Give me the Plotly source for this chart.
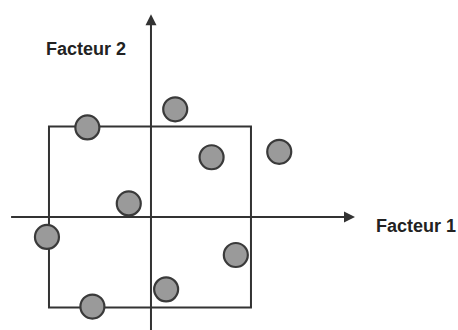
import plotly.graph_objects as go

# Factor-plane coordinates of the individuals
factor1 = [-0.62, 0.25, 0.61, 1.28, -0.21, -1.02, 0.85, 0.16, -0.57]
factor2 = [0.99, 1.19, 0.66, 0.72, 0.15, -0.22, -0.42, -0.80, -0.99]

# Square frame (unit box) in factor units
box_x = [-1.0, 1.0]
box_y = [-1.0, 1.0]

axis_labels = ["Facteur 1", "Facteur 2"]

LINE = "#333333"

fig = go.Figure()

fig.add_trace(go.Scatter(
    x=factor1, y=factor2, mode="markers",
    marker=dict(size=24, color="#9a9a9a", line=dict(color="#3a3a3a", width=2.2)),
    hoverinfo="skip", showlegend=False,
))

fig.add_shape(type="rect", xref="x", yref="y",
              x0=box_x[0], x1=box_x[1], y0=box_y[0], y1=box_y[1],
              line=dict(color=LINE, width=2), layer="below")

# Axes with arrows
fig.add_annotation(x=2.03, y=0, ax=-1.39, ay=0, xref="x", yref="y", axref="x", ayref="y",
                   showarrow=True, arrowhead=2, arrowsize=1.1, arrowwidth=2, arrowcolor=LINE, text="")
fig.add_annotation(x=0.01, y=2.24, ax=0.01, ay=-1.4, xref="x", yref="y", axref="x", ayref="y",
                   showarrow=True, arrowhead=2, arrowsize=1.1, arrowwidth=2, arrowcolor=LINE, text="")

fig.add_annotation(x=2.22, y=-0.10, xref="x", yref="y", text="<b>%s</b>" % axis_labels[0],
                   showarrow=False, xanchor="left", yanchor="middle",
                   font=dict(family="Arial, Liberation Sans", size=18, color="#222222"))
fig.add_annotation(x=-1.05, y=1.86, xref="x", yref="y", text="<b>%s</b>" % axis_labels[1],
                   showarrow=False, xanchor="left", yanchor="middle",
                   font=dict(family="Arial, Liberation Sans", size=18, color="#222222"))

fig.update_layout(
    width=458, height=330,
    margin=dict(l=0, r=0, t=0, b=0),
    paper_bgcolor="white", plot_bgcolor="white",
    xaxis=dict(range=[-1.485, 3.05], visible=False, fixedrange=True),
    yaxis=dict(range=[-1.249, 2.398], visible=False, fixedrange=True),
)

fig.write_html("out.html", config={"displayModeBar": False},
               post_script="document.body.style.margin='0';document.body.style.overflow='hidden';")
